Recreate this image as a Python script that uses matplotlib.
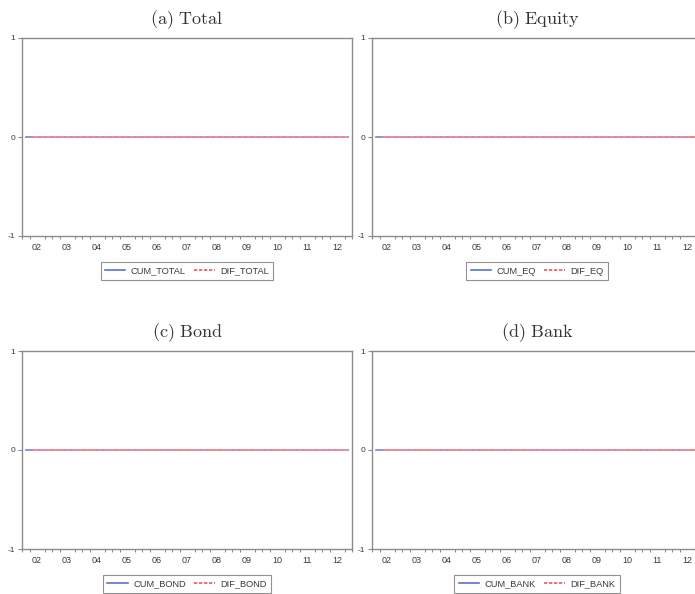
import numpy as np
import matplotlib
matplotlib.use("Agg")
import matplotlib.pyplot as plt

plt.rcParams['mathtext.fontset'] = 'cm'

# Quarterly sample 2002Q1-2012Q4
years = list(range(2002, 2013))
year_labels = ["02", "03", "04", "05", "06", "07", "08", "09", "10", "11", "12"]
n_obs = 44

panel_titles = ["(a) Total", "(b) Equity", "(c) Bond", "(d) Bank"]
cum_names = ["CUM_TOTAL", "CUM_EQ", "CUM_BOND", "CUM_BANK"]
dif_names = ["DIF_TOTAL", "DIF_EQ", "DIF_BOND", "DIF_BANK"]

# Cumulative series and their first differences (first difference undefined)
cum_total = [0.0] * n_obs
cum_eq = [0.0] * n_obs
cum_bond = [0.0] * n_obs
cum_bank = [0.0] * n_obs
dif_total = [np.nan] + [0.0] * (n_obs - 1)
dif_eq = [np.nan] + [0.0] * (n_obs - 1)
dif_bond = [np.nan] + [0.0] * (n_obs - 1)
dif_bank = [np.nan] + [0.0] * (n_obs - 1)

cum_series = [cum_total, cum_eq, cum_bond, cum_bank]
dif_series = [dif_total, dif_eq, dif_bond, dif_bank]

W, H = 695, 594
fig = plt.figure(figsize=(W / 100, H / 100), dpi=100)

ax_w = 330 / W
ax_h = 198 / H
lefts = [22 / W, 372 / W]
bottoms = [1 - 236 / H, 1 - 549 / H]

t = years[0] + (np.arange(n_obs) + 0.5) / 4.0
spine_col = "#8c8c8c"
txt_col = "#3a3a3a"

for k in range(4):
    r, c = divmod(k, 2)
    ax = fig.add_axes([lefts[c], bottoms[r], ax_w, ax_h])
    ax.plot(t, cum_series[k], color="#7f8fd8", lw=1.3)
    ax.plot(t, dif_series[k], color="#ee8f95", lw=1.5, ls=(0, (2.5, 0.6)))
    ax.set_xlim(years[0], years[-1] + 1)
    ax.set_ylim(-1, 1)
    ax.set_yticks([-1, 0, 1])
    ax.set_yticklabels(["-1", "0", "1"], fontsize=6, color=txt_col,
                       family="Liberation Sans")
    ax.set_xticks(np.array(years) + 0.5)
    ax.set_xticklabels(year_labels, fontsize=6.5, color=txt_col,
                       family="Liberation Sans")
    ax.set_xticks(np.arange(years[0], years[-1] + 1.01, 0.25), minor=True)
    ax.tick_params(axis='x', which='major', length=0, pad=5)
    ax.tick_params(axis='x', which='minor', length=2.5, color=spine_col, width=0.8)
    ax.tick_params(axis='y', length=3, color=spine_col, width=0.8, pad=2)
    for s in ax.spines.values():
        s.set_color(spine_col)
        s.set_linewidth(1.0)
    ax.set_title(r"$\mathrm{" + panel_titles[k].replace(" ", r"\ ") + "}$",
                 fontsize=13, color="#333333", pad=10)
    h1, = ax.plot([], [], color="#5a6fd0", lw=1.2)
    h2, = ax.plot([], [], color="#e85a5a", lw=1.2, ls=(0, (2, 1)))
    leg = ax.legend(handles=[h1, h2], labels=[cum_names[k], dif_names[k]],
                    loc="upper center",
                    bbox_to_anchor=(0.5, -0.11), ncol=2, frameon=True,
                    fancybox=False, edgecolor="#777777",
                    prop={"family": "Liberation Sans", "size": 6.7},
                    handlelength=2.2, columnspacing=0.9, handletextpad=0.6,
                    borderpad=0.45)
    leg.get_frame().set_linewidth(0.8)
    for tx in leg.get_texts():
        tx.set_color(txt_col)

fig.savefig("out.png", dpi=100, facecolor="white")
